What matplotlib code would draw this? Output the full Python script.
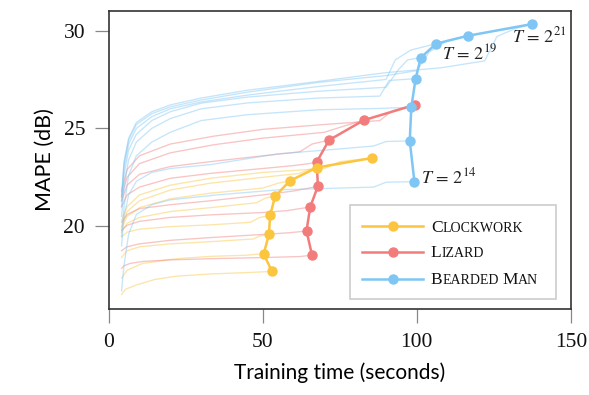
import matplotlib
matplotlib.use('Agg')
import matplotlib.pyplot as plt
from matplotlib.patches import Rectangle
from matplotlib.transforms import IdentityTransform
import re

plt.rcParams['mathtext.fontset'] = 'stix'

SERIF = 'Liberation Serif'
SANS = 'Lato'

yellow = '#fbc53f'
red = '#f27c7c'
blue = '#7fc6f4'

# final (time, MAPE) for T = 2^14 ... 2^21
clock_x = [53.0, 50.3, 52.0, 52.4, 54.0, 58.8, 67.6, 85.6]
clock_y = [17.69, 18.58, 19.58, 20.55, 21.53, 22.32, 23.0, 23.49]
lizard_x = [66.0, 64.2, 65.4, 67.9, 67.5, 71.5, 82.8, 99.3]
lizard_y = [18.52, 19.76, 20.98, 22.05, 23.28, 24.40, 25.42, 26.2]
beard_x = [99.2, 97.7, 98.2, 99.6, 101.3, 106.3, 116.5, 137.3]
beard_y = [22.28, 24.36, 26.08, 27.54, 28.62, 29.33, 29.73, 30.33]

# training curves, one per T
clock_curves = [
    ([4.2, 5.5, 9, 15, 22, 33, 46, 53.0],
     [16.52, 16.78, 17.0, 17.28, 17.45, 17.56, 17.64, 17.69]),
    ([4.2, 6, 11, 22, 33, 45, 48, 50.3],
     [17.35, 17.75, 18.1, 18.34, 18.46, 18.52, 18.57, 18.58]),
    ([4.2, 6, 10, 20, 33, 47, 49, 52.0],
     [18.4, 18.75, 18.95, 19.1, 19.21, 19.35, 19.5, 19.58]),
    ([4.2, 6, 10, 20, 33, 46, 49, 52.4],
     [19.45, 19.7, 19.85, 19.98, 20.07, 20.2, 20.45, 20.55]),
    ([4.2, 6, 10, 20, 33, 48, 51, 54.0],
     [19.7, 20.15, 20.45, 20.75, 20.95, 21.2, 21.45, 21.53]),
    ([4.2, 6, 10, 20, 33, 50, 55, 58.8],
     [19.9, 20.5, 20.95, 21.4, 21.69, 21.95, 22.2, 22.32]),
    ([4.2, 6, 10, 20, 33, 50, 62, 65, 67.6],
     [20.0, 20.75, 21.3, 21.85, 22.2, 22.5, 22.7, 22.9, 23.0]),
    ([4.2, 6, 10, 20, 33, 50, 70, 75, 85.6],
     [20.3, 21.0, 21.6, 22.1, 22.45, 22.75, 22.95, 23.3, 23.49]),
]
lizard_curves = [
    ([4.2, 5, 7, 11, 20, 33, 50, 62, 66.0],
     [17.85, 17.98, 18.1, 18.2, 18.28, 18.34, 18.4, 18.45, 18.52]),
    ([4.2, 6, 10, 20, 33, 50, 58, 62, 64.2],
     [18.75, 18.95, 19.1, 19.28, 19.42, 19.58, 19.66, 19.72, 19.76]),
    ([4.2, 6, 10, 20, 33, 50, 58, 62, 65.4],
     [19.8, 20.05, 20.25, 20.45, 20.58, 20.7, 20.8, 20.9, 20.98]),
    ([4.2, 6, 10, 20, 33, 50, 60, 65, 67.9],
     [20.2, 20.6, 20.9, 21.1, 21.3, 21.6, 21.8, 21.95, 22.05]),
    ([4.2, 6, 10, 20, 33, 50, 60, 65, 67.5],
     [21.0, 21.6, 22.0, 22.45, 22.7, 22.95, 23.1, 23.2, 23.28]),
    ([4.2, 6, 10, 20, 33, 50, 62, 66, 71.5],
     [21.3, 22.1, 22.65, 23.05, 23.3, 23.6, 23.8, 24.2, 24.4]),
    ([4.2, 6, 10, 20, 34, 50, 70, 76, 82.8],
     [21.5, 22.5, 23.2, 23.75, 24.16, 24.5, 24.8, 25.1, 25.42]),
    ([4.2, 6, 10, 20, 34, 50, 70, 88, 92, 99.3],
     [21.8, 22.9, 23.6, 24.2, 24.6, 24.95, 25.2, 25.4, 25.9, 26.2]),
]
beard_curves = [
    ([4.2, 5, 6.5, 9, 14, 20, 35, 55, 86, 90, 99.2],
     [16.7, 18.0, 19.6, 20.6, 21.1, 21.35, 21.6, 21.86, 22.0, 22.25, 22.28]),
    ([4.2, 5, 6.5, 9, 14, 20, 33, 55, 75, 86, 90, 97.7],
     [19.0, 20.5, 21.6, 22.3, 22.75, 22.95, 23.15, 23.7, 23.95, 24.1, 24.33, 24.36]),
    ([4.2, 5, 6.5, 9, 14, 20, 30, 45, 68, 88, 98.2],
     [19.5, 21.0, 22.6, 23.6, 24.3, 24.8, 25.4, 25.7, 25.95, 26.02, 26.08]),
    ([4.2, 5, 6.5, 9, 14, 20, 30, 45, 68, 88, 91, 99.6],
     [20.5, 22.0, 23.4, 24.3, 25.0, 25.5, 26.0, 26.3, 26.55, 26.65, 27.45, 27.54]),
    ([4.2, 5, 6.5, 9, 14, 20, 30, 45, 68, 90, 94, 97, 101.3],
     [21.0, 22.6, 23.9, 24.7, 25.4, 25.85, 26.29, 26.6, 26.9, 27.1, 28.0, 28.5, 28.62]),
    ([4.2, 5, 6.5, 9, 14, 20, 30, 45, 68, 90, 93, 98, 106.3],
     [21.3, 23.0, 24.2, 25.0, 25.6, 26.0, 26.35, 26.7, 27.14, 27.5, 28.5, 29.0, 29.33]),
    ([4.2, 5, 6.5, 9, 14, 20, 30, 45, 68, 90, 100, 104, 110, 116.5],
     [21.5, 23.2, 24.4, 25.2, 25.75, 26.1, 26.45, 26.85, 27.35, 27.7, 27.95, 28.9, 29.5, 29.73]),
    ([4.2, 5, 6.5, 9, 14, 20, 30, 45, 68, 90, 108, 122, 126, 132, 137.3],
     [21.6, 23.3, 24.5, 25.3, 25.85, 26.2, 26.55, 26.95, 27.4, 27.85, 28.1, 28.45, 29.7, 30.1, 30.33]),
]

labels = ['Clockwork', 'Lizard', 'Bearded Man']
colors = [yellow, red, blue]

fig = plt.figure(figsize=(5.89, 3.95), dpi=100)
ax = fig.add_axes([0.1844, 0.2177, 0.785, 0.7545])

for curves, c in [(clock_curves, yellow), (lizard_curves, red), (beard_curves, blue)]:
    for cx, cy in curves:
        ax.plot(cx, cy, color=c, lw=0.95, alpha=0.45, zorder=1)

ax.plot(lizard_x, lizard_y, color=red, lw=1.8, marker='o', ms=6.5, zorder=3)
ax.plot(clock_x, clock_y, color=yellow, lw=1.8, marker='o', ms=6.5, zorder=4)
ax.plot(beard_x, beard_y, color=blue, lw=1.8, marker='o', ms=6.5, zorder=5)

ann = dict(fontsize=13, color='#222222', textcoords='offset points')
ax.annotate(r'$T\,=\,2^{14}$', (beard_x[0], beard_y[0]), xytext=(5, 3),
            ha='left', va='center', **ann)
ax.annotate(r'$T\,=\,2^{19}$', (beard_x[5], beard_y[5]), xytext=(4, -7),
            ha='left', va='center', **ann)
ax.annotate(r'$T\,=\,2^{21}$', (beard_x[7], beard_y[7]), xytext=(5, -9),
            ha='center', va='center', **ann)

ax.set_xlim(0, 150)
ax.set_ylim(15.77, 31.0)
ax.set_xticks([0, 50, 100, 150])
ax.set_yticks([20, 25, 30])
ax.tick_params(direction='out', length=10, width=0.9, color='#888888',
               pad=7, labelsize=15.5, labelcolor='#111111')
for t in ax.get_xticklabels() + ax.get_yticklabels():
    t.set_family(SERIF)
for s in ax.spines.values():
    s.set_color('#333333')
    s.set_linewidth(1.2)

ax.set_xlabel('Training time (seconds)', family=SANS, fontsize=15, labelpad=8)
ax.set_ylabel('MAPE (dB)', family=SANS, fontsize=15.5, labelpad=6)

# legend box drawn by hand so the labels can be set in small caps
ax.add_patch(Rectangle((0.522, 0.034), 0.446, 0.315, transform=ax.transAxes,
                       facecolor='white', edgecolor='#cccccc', lw=1.2, zorder=6))
rows = [0.2785, 0.1913, 0.1007]
renderer = fig.canvas.get_renderer()
for lab, c, ry in zip(labels, colors, rows):
    ax.plot([0.549, 0.679], [ry, ry], color=c, lw=1.8, transform=ax.transAxes,
            zorder=7, clip_on=False)
    ax.plot([0.614], [ry], color=c, marker='o', ms=6.5, transform=ax.transAxes,
            zorder=7, clip_on=False)
    px, py = ax.transAxes.transform((0.697, ry))
    py -= 5.5
    for i, word in enumerate(lab.split(' ')):
        if i:
            px += 10 * 0.25 * fig.dpi / 72
        for run in re.findall(r'[A-Z]+|[a-z]+', word):
            size = 12.5 if run[0].isupper() else 10
            t = fig.text(px, py, run.upper(), fontsize=size, family=SERIF,
                         va='baseline', ha='left', color='#111111',
                         transform=IdentityTransform(), zorder=8)
            px += t.get_window_extent(renderer).width

fig.savefig('out.png', dpi=100)
